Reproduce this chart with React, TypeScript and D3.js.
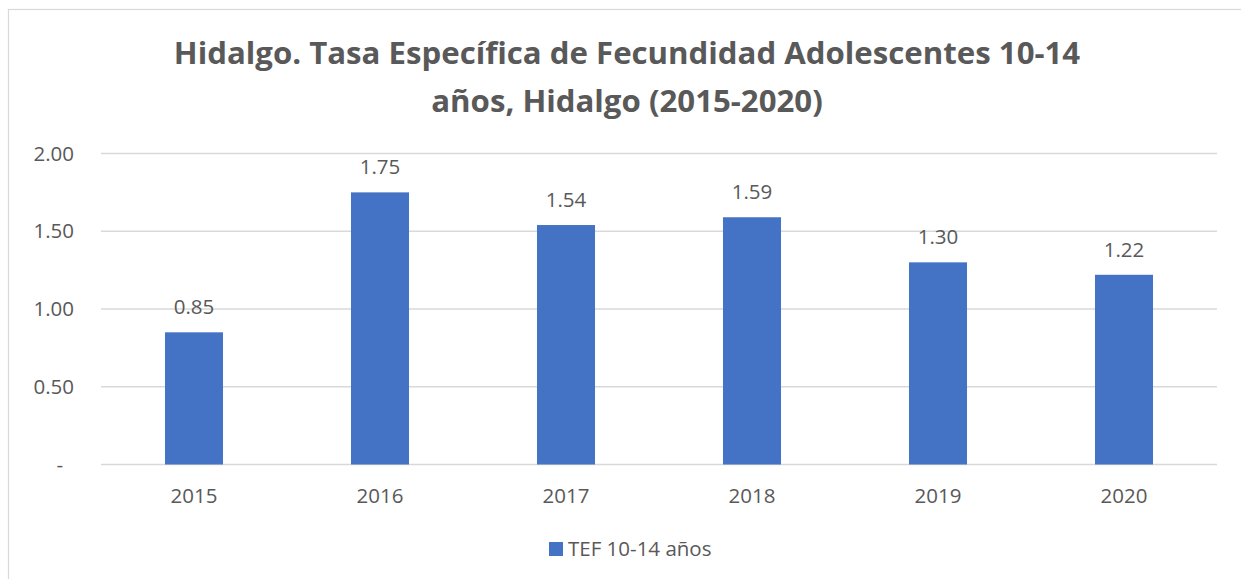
import React from "react";
import * as d3 from "d3";

const categories = ["2015", "2016", "2017", "2018", "2019", "2020"];
const values = [0.85, 1.75, 1.54, 1.59, 1.3, 1.22];
const yTicks = [0, 0.5, 1.0, 1.5, 2.0];
const seriesName = "TEF 10-14 años";
const titleLines = [
  "Hidalgo. Tasa Específica de Fecundidad Adolescentes 10-14",
  "años, Hidalgo (2015-2020)",
];

const W = 1241;
const H = 579;
const FONT = "'Open Sans', sans-serif";
const TEXT = "#595959";
const GRID = "#d9d9d9";
const BAR = "#4472C4";
const FS = 20.5;

export default function App() {
  const x = d3.scaleBand<string>().domain(categories).range([101, 1217]).paddingInner(0.688).paddingOuter(0.344);
  const y = d3.scaleLinear().domain([0, 2]).range([464.5, 153.5]);
  const fmt = d3.format(".2f");
  return (
    <svg width={W} height={H} style={{ position: "absolute", left: 0, top: 0, background: "#fff" }}>
      <rect x={8.5} y={9.5} width={1238} height={575} fill="#fff" stroke={GRID} strokeWidth={1.2} />
      {titleLines.map((t, i) => (
        <text key={i} x={627} y={64 + i * 48} textAnchor="middle" fontFamily={FONT} fontWeight={700} fontSize={31.2} fill={TEXT}>
          {t}
        </text>
      ))}
      {yTicks.map((t) => (
        <g key={t}>
          <line x1={101} x2={1217} y1={y(t)} y2={y(t)} stroke={GRID} strokeWidth={1.3} />
          <text x={t === 0 ? 63 : 74} y={y(t) + 7} textAnchor="end" fontFamily={FONT} fontSize={FS} fill={TEXT}>
            {t === 0 ? "-" : fmt(t)}
          </text>
        </g>
      ))}
      {categories.map((c, i) => (
        <g key={c}>
          <rect x={x(c)} y={y(values[i])} width={x.bandwidth()} height={y(0) - y(values[i])} fill={BAR} />
          <text x={(x(c) as number) + x.bandwidth() / 2} y={y(values[i]) - 18} textAnchor="middle" fontFamily={FONT} fontSize={FS} fill={TEXT}>
            {fmt(values[i])}
          </text>
          <text x={(x(c) as number) + x.bandwidth() / 2} y={503} textAnchor="middle" fontFamily={FONT} fontSize={FS} fill={TEXT}>
            {c}
          </text>
        </g>
      ))}
      <rect x={549} y={542} width={14} height={14} fill={BAR} />
      <text x={568} y={556} fontFamily={FONT} fontSize={FS} fill={TEXT}>
        {seriesName}
      </text>
    </svg>
  );
}
